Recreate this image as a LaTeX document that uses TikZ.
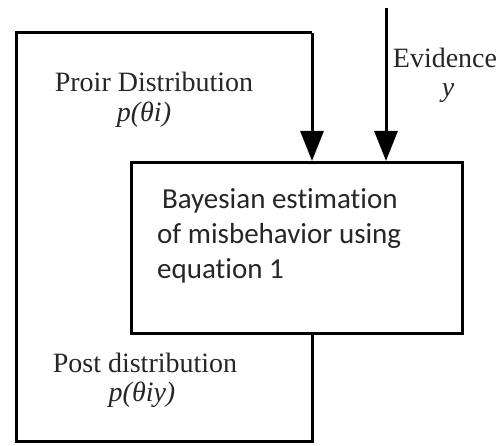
\documentclass[tikz,border=0pt]{standalone}
\usepackage{fontspec}
\setmainfont{Liberation Serif}
\newfontfamily\boxfont[Ligatures=NoCommon]{Carlito}
\usetikzlibrary{arrows.meta}
\begin{document}
\begin{tikzpicture}[x=1pt,y=-1pt,
  line/.style={line width=3pt, draw=black},
  arr/.style={line, -{Triangle[width=23pt,length=30pt]}},
  lbl/.style={font=\fontsize{28}{30}\selectfont, text=black!85, inner sep=0pt},
  boxtxt/.style={font=\boxfont\fontsize{29}{35}\selectfont, text=black!85, align=left, inner sep=0pt}]
\useasboundingbox (0,0) rectangle (504,446);
\node[line, minimum width=331pt, minimum height=171pt, inner sep=0pt] (est) at (296.5,248) {};
\node[boxtxt, anchor=north west] (esttxt) at (157,188) {\,Bayesian estimation\\of misbehavior using\\equation 1};
\coordinate (evtop) at (386,8);
\coordinate (loopt) at (312,33);
\coordinate (tl) at (16,33);
\coordinate (bl) at (16,442);
\coordinate (br) at (312,442);
\draw[arr] (evtop) -- (evtop |- est.north);
\draw[line] (est.south -| br) -- (br) -- (bl) -- (tl) -- (loopt);
\draw[arr] (loopt) -- (loopt |- est.north);
\node[lbl] (ev) at (445,58) {Evidence};
\node[lbl, font=\fontsize{28}{30}\selectfont\itshape] (evy) at (448,93) {y};
\node[lbl] (prior) at (154,82) {Proir Distribution};
\node[lbl, font=\fontsize{28}{30}\selectfont\itshape] (priorp) at (144,115) {p(θi)};
\node[lbl] (post) at (145,363) {Post distribution};
\node[lbl, font=\fontsize{28}{30}\selectfont\itshape] (postp) at (142,395) {p(θiy)};
\end{tikzpicture}
\end{document}
